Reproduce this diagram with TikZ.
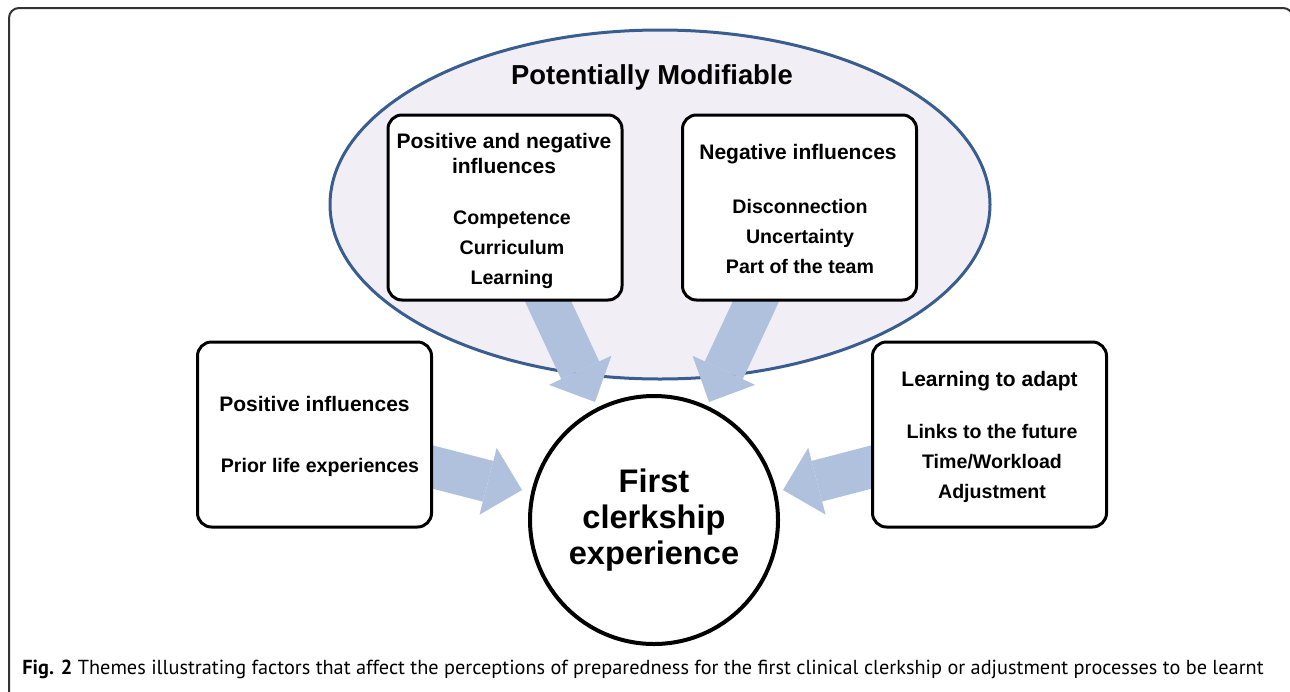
\documentclass[tikz,border=0pt]{standalone}
\usepackage{fontspec}
\setmainfont{Liberation Sans}
\newfontfamily\capfont{PT Sans}
\usetikzlibrary{positioning, shapes.geometric, arrows.meta}

\definecolor{flowblue}{RGB}{176,193,221}
\definecolor{modfill}{RGB}{241,239,245}
\definecolor{modline}{RGB}{58,93,143}

\pgfdeclarelayer{ground}
\pgfdeclarelayer{flow}
\pgfsetlayers{ground,flow,main}

\begin{document}
\begin{tikzpicture}[x=0.5pt, y=-0.5pt,
    themebox/.style={draw, line width=1.5pt, rounded corners=7pt, fill=white, minimum width=117pt, minimum height=92.5pt},
    headtext/.style={font=\fontsize{10.5}{12.5}\selectfont\bfseries, align=center, inner sep=0pt},
    itemtext/.style={font=\fontsize{9.8}{15}\selectfont\bfseries, align=center, inner sep=0pt},
    flowarrow/.style={draw=flowblue, line width=21pt, -{Triangle[width=34.5pt, length=17.5pt, line width=0pt]}}]

          \useasboundingbox (0,0) rectangle (1290,691);

          \begin{scope}
            \clip (0,0) rectangle (1290,691);
            \draw [line width=1pt, draw=black!80, rounded corners=5pt] (9,8) rectangle (1293,720);
          \end{scope}

          \begin{pgfonlayer}{ground}
            \node (modif) [ellipse, draw=modline, line width=1.5pt, fill=modfill, minimum width=330pt, minimum height=174.5pt] at (660,204.5) {};
          \end{pgfonlayer}
          \node (modtitle) [font=\fontsize{13.7}{16}\selectfont\bfseries] at (652,77) {Potentially Modifiable};

          \begin{scope}
            \node (pnbox) [themebox] at (505,207.5) {};
            \node (pnhead) [headtext] at (504,153) {Positive and negative\\influences};
            \node (pnitems) [itemtext] at (512,250) {Competence\\Curriculum\\Learning};

            \node (negbox) [themebox] at (799.5,207.5) {};
            \node (neghead) [headtext] at (798,154) {Negative influences};
            \node (negitems) [itemtext] at (800,236) {Disconnection\\Uncertainty\\Part of the team};

            \node (posbox) [themebox] at (314.5,434.5) {};
            \node (poshead) [headtext] at (314.5,404) {Positive influences};
            \node (positems) [itemtext] at (320,467) {Prior life experiences};

            \node (adaptbox) [themebox] at (989.5,434.5) {};
            \node (adapthead) [headtext] at (989.5,381) {Learning to adapt};
            \node (adaptitems) [itemtext] at (992,463) {Links to the future\\Time/Workload\\Adjustment};
          \end{scope}

          \node (first) [circle, draw, line width=2pt, fill=white, minimum size=124pt, align=center, font=\fontsize{16.3}{18}\selectfont\bfseries] at (654,520) {First\\clerkship\\experience};

          \begin{pgfonlayer}{flow}
            \draw [flowarrow] ([shift={(-14,29)}]posbox.east) -- ([shift={(-132,-30)}]first.center);
            \draw [flowarrow] ([shift={(14,29)}]adaptbox.west) -- ([shift={(129,-30)}]first.center);
            \draw [flowarrow] ([shift={(38,-11)}]pnbox.south) -- ([shift={(-59,-118)}]first.center);
            \draw [flowarrow] ([shift={(-38.5,-11)}]negbox.south) -- ([shift={(55,-118)}]first.center);
          \end{pgfonlayer}

          \node (caption) [anchor=base west, inner sep=0pt, font=\capfont\fontsize{10.15}{12}\selectfont] at (22,674) {\textbf{Fig. 2} Themes illustrating factors that affect the perceptions of preparedness for the first clinical clerkship or adjustment processes to be learnt};
        \end{tikzpicture}
\end{document}
